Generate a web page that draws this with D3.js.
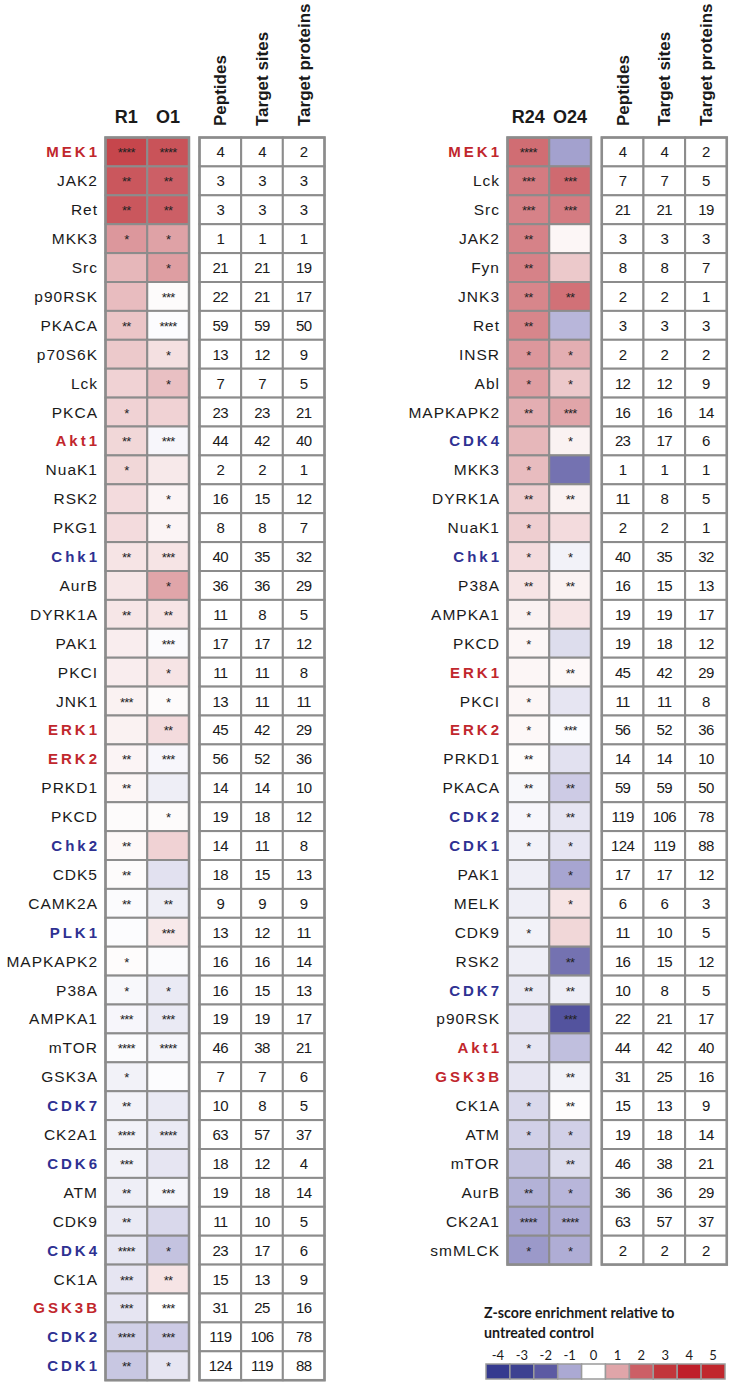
<!DOCTYPE html>
<html><head><meta charset="utf-8">
<script src="https://cdn.jsdelivr.net/npm/d3@7"></script>
<style>body{margin:0;background:#fff}svg{display:block}
.sans{font-family:"Liberation Sans", Arial, Helvetica, sans-serif}
.cal{font-family:Lato, "Open Sans", sans-serif}</style>
</head><body>
<script>
// ---------------- DATA ----------------
const leftKinases = ["MEK1","JAK2","Ret","MKK3","Src","p90RSK","PKACA","p70S6K","Lck","PKCA","Akt1","NuaK1","RSK2","PKG1","Chk1","AurB","DYRK1A","PAK1","PKCI","JNK1","ERK1","ERK2","PRKD1","PKCD","Chk2","CDK5","CAMK2A","PLK1","MAPKAPK2","P38A","AMPKA1","mTOR","GSK3A","CDK7","CK2A1","CDK6","ATM","CDK9","CDK4","CK1A","GSK3B","CDK2","CDK1"];
const leftR1 = [2.6,2.2,2.2,1.2,0.8,0.75,0.65,0.6,0.5,0.5,0.45,0.45,0.4,0.4,0.3,0.28,0.28,0.2,0.2,0.15,0.15,0.12,0.1,0.05,0.08,0.05,-0.05,-0.03,0.03,-0.08,-0.1,-0.05,-0.15,-0.15,-0.15,-0.15,-0.2,-0.25,-0.28,-0.3,-0.3,-0.55,-0.65];
const leftO1 = [2.3,2.0,2.0,1.05,1.1,0.05,-0.03,0.35,0.7,0.5,-0.1,0.25,0.12,0.12,0.3,1.0,0.3,-0.05,0.3,0.05,0.4,-0.1,-0.2,0.05,0.5,-0.35,-0.2,0.25,-0.05,-0.25,-0.25,-0.12,-0.03,-0.25,-0.25,-0.3,-0.12,-0.45,-0.7,0.3,0.0,-0.6,-0.3];
const leftSigR1 = ["****","**","**","*","","","**","","","*","**","*","","","**","","**","","","***","","**","**","","**","**","**","","*","*","***","****","*","**","****","***","**","**","****","***","***","****","**"];
const leftSigO1 = ["****","**","**","*","*","***","****","*","*","","***","","*","*","***","*","**","***","*","*","**","***","","*","","","**","***","","*","***","****","","","****","","***","","*","**","***","***","*"];
const leftPeptides = [4,3,3,1,21,22,59,13,7,23,44,2,16,8,40,36,11,17,11,13,45,56,14,19,14,18,9,13,16,16,19,46,7,10,63,18,19,11,23,15,31,119,124];
const leftSites = [4,3,3,1,21,21,59,12,7,23,42,2,15,8,35,36,8,17,11,11,42,52,14,18,11,15,9,12,16,15,19,38,7,8,57,12,18,10,17,13,25,106,119];
const leftProteins = [2,3,3,1,19,17,50,9,5,21,40,1,12,7,32,29,5,12,8,11,29,36,10,12,8,13,9,11,14,13,17,21,6,5,37,4,14,5,6,9,16,78,88];

const rightKinases = ["MEK1","Lck","Src","JAK2","Fyn","JNK3","Ret","INSR","Abl","MAPKAPK2","CDK4","MKK3","DYRK1A","NuaK1","Chk1","P38A","AMPKA1","PKCD","ERK1","PKCI","ERK2","PRKD1","PKACA","CDK2","CDK1","PAK1","MELK","CDK9","RSK2","CDK7","p90RSK","Akt1","GSK3B","CK1A","ATM","mTOR","AurB","CK2A1","smMLCK"];
const rightR24 = [1.8,1.6,1.5,1.5,1.5,1.45,1.45,1.2,1.1,0.9,0.8,0.75,0.55,0.55,0.4,0.3,0.15,0.1,0.1,0.1,0.08,0.03,-0.08,-0.1,-0.15,-0.2,-0.2,-0.15,-0.2,-0.25,-0.3,-0.3,-0.3,-0.45,-0.55,-0.7,-0.9,-1.05,-1.2];
const rightO24 = [-1.1,1.85,1.6,0.1,0.6,1.75,-0.85,0.9,0.6,1.0,0.15,-1.7,0.15,0.4,-0.15,0.15,0.3,-0.4,0.08,-0.3,-0.03,-0.35,-0.6,-0.3,-0.3,-1.05,0.3,0.45,-1.7,-0.2,-2.3,-0.75,-0.15,0.02,-0.55,-0.4,-0.85,-0.95,-0.95];
const rightSigR24 = ["****","***","***","**","**","**","**","*","*","**","","*","**","*","*","**","*","*","","*","*","**","**","*","*","","","*","","**","","*","","*","*","","**","****","*"];
const rightSigO24 = ["","***","***","","","**","","*","*","***","*","","**","","*","**","","","**","","***","","**","**","*","*","*","","**","**","***","","**","**","*","**","*","****","*"];
const rightPeptides = [4,7,21,3,8,2,3,2,12,16,23,1,11,2,40,16,19,19,45,11,56,14,59,119,124,17,6,11,16,10,22,44,31,15,19,46,36,63,2];
const rightSites = [4,7,21,3,8,2,3,2,12,16,17,1,8,2,35,15,19,18,42,11,52,14,59,106,119,17,6,10,15,8,21,42,25,13,18,38,36,57,2];
const rightProteins = [2,5,19,3,7,1,3,2,9,14,6,1,5,1,32,13,17,12,29,8,36,10,50,78,88,12,3,5,12,5,17,40,16,9,14,21,29,37,2];

const redKinases = ["MEK1","Akt1","ERK1","ERK2","GSK3B"];
const blueKinases = ["Chk1","Chk2","PLK1","CDK7","CDK6","CDK4","CDK2","CDK1"];

const leftConditions = ["R1","O1"];
const rightConditions = ["R24","O24"];
const countHeaders = ["Peptides","Target sites","Target proteins"];

const legendTicks = [-4,-3,-2,-1,0,1,2,3,4,5];
const legendColours = ["#353a8f","#3d4191","#5c5aa3","#aba9d3","#ffffff","#e0a5a9","#cc5f66","#c2363b","#bf1f2a","#c1272d"];
const legendTitle = ["Z-score enrichment relative to","untreated control"];

// ---------------- DRAW ----------------
const W = 729, H = 1383;
const svg = d3.select("body").append("svg").attr("width", W).attr("height", H);
const colour = d3.scaleLinear().domain(legendTicks).range(legendColours).clamp(true);

const rowH = 28.9, top0 = 137.5;
const grey = "#8c8c8c";
const RED = "#c1272d", BLUE = "#2e3192";
const special = d => redKinases.includes(d) || blueKinases.includes(d);

function panel(cfg) {
  const n = cfg.kinases.length;
  const y = d3.scaleBand().domain(d3.range(n)).range([top0, top0 + n * rowH]);
  const xh = d3.scaleBand().domain(cfg.conditions).range([cfg.heatX, cfg.heatX + 83.5]);
  const xt = d3.scaleBand().domain(countHeaders).range([cfg.tableX, cfg.tableX + 125]);
  const g = svg.append("g").attr("class","sans");

  // Row labels
  g.selectAll("text.lab").data(cfg.kinases).join("text")
    .attr("class","lab")
    .attr("x", d => special(d) ? cfg.labelX + 3 : cfg.labelX + 1)
    .attr("y", (d,i) => y(i) + y.bandwidth()/2 + 5.5)
    .attr("text-anchor","end")
    .attr("font-size", d => special(d) ? 15 : 15.5)
    .attr("font-weight", d => special(d) ? "bold" : "normal")
    .attr("letter-spacing", d => special(d) ? 3 : 1)
    .attr("fill", d => redKinases.includes(d) ? RED : blueKinases.includes(d) ? BLUE : "#1a1a1a")
    .text(d => d);

  // Heat cells
  const heatData = [];
  cfg.kinases.forEach((k,i) => {
    heatData.push({i, c: cfg.conditions[0], v: cfg.v1[i], s: cfg.s1[i]});
    heatData.push({i, c: cfg.conditions[1], v: cfg.v2[i], s: cfg.s2[i]});
  });
  g.selectAll("rect.heat").data(heatData).join("rect")
    .attr("x", d => xh(d.c)).attr("y", d => y(d.i))
    .attr("width", xh.bandwidth()).attr("height", y.bandwidth())
    .attr("fill", d => colour(d.v)).attr("stroke", grey).attr("stroke-width", 2);
  g.selectAll("text.sig").data(heatData).join("text")
    .attr("x", d => xh(d.c) + xh.bandwidth()/2)
    .attr("y", d => y(d.i) + y.bandwidth()/2 + 5.5)
    .attr("text-anchor","middle")
    .attr("font-size", 13).attr("fill","#222").attr("letter-spacing",-0.8)
    .text(d => d.s);
  g.append("rect").attr("x", cfg.heatX).attr("y", top0)
    .attr("width", 83.5).attr("height", n * rowH)
    .attr("fill","none").attr("stroke", grey).attr("stroke-width", 2.5);

  // Count table
  const tab = [];
  cfg.kinases.forEach((k,i) => {
    tab.push({i, c: countHeaders[0], v: cfg.pep[i]});
    tab.push({i, c: countHeaders[1], v: cfg.sites[i]});
    tab.push({i, c: countHeaders[2], v: cfg.prot[i]});
  });
  g.selectAll("rect.tab").data(tab).join("rect")
    .attr("x", d => xt(d.c)).attr("y", d => y(d.i))
    .attr("width", xt.bandwidth()).attr("height", y.bandwidth())
    .attr("fill","#fff").attr("stroke", grey).attr("stroke-width", 2);
  g.selectAll("text.num").data(tab).join("text")
    .attr("x", d => xt(d.c) + xt.bandwidth()/2)
    .attr("y", d => y(d.i) + y.bandwidth()/2 + 5.5)
    .attr("text-anchor","middle")
    .attr("font-size", 15).attr("fill","#1a1a1a").attr("letter-spacing",-0.6)
    .text(d => d.v);
  g.append("rect").attr("x", cfg.tableX).attr("y", top0)
    .attr("width", 125).attr("height", n * rowH)
    .attr("fill","none").attr("stroke", grey).attr("stroke-width", 2.5);

  // Headers
  g.selectAll("text.ch").data(cfg.conditions).join("text")
    .attr("x", d => xh(d) + xh.bandwidth()/2)
    .attr("y", 123)
    .attr("text-anchor","middle")
    .attr("font-size", 18).attr("font-weight","bold").attr("fill","#1a1a1a")
    .text(d => d);
  g.selectAll("text.th").data(countHeaders).join("text")
    .attr("transform", d => `translate(${xt(d) + xt.bandwidth()/2 + 6},126) rotate(-90)`)
    .attr("font-size", 17).attr("font-weight","bold").attr("fill","#1a1a1a")
    .text(d => d);
}

panel({kinases:leftKinases, conditions:leftConditions, v1:leftR1, v2:leftO1, s1:leftSigR1, s2:leftSigO1,
  pep:leftPeptides, sites:leftSites, prot:leftProteins, heatX:105.5, tableX:199.5, labelX:97});
panel({kinases:rightKinases, conditions:rightConditions, v1:rightR24, v2:rightO24, s1:rightSigR24, s2:rightSigO24,
  pep:rightPeptides, sites:rightSites, prot:rightProteins, heatX:507.5, tableX:601.8, labelX:499});

// Legend
const lg = svg.append("g").attr("class","cal");
lg.selectAll("text.lt").data(legendTitle).join("text")
  .attr("x", 484).attr("y", (d,i) => 1318 + i*20)
  .attr("font-weight","bold").attr("font-size", 14.2)
  .attr("fill","#1a1a1a").text(d => d);
const lx = d3.scaleBand().domain(legendTicks).range([486, 725]);
lg.selectAll("rect").data(legendTicks).join("rect")
  .attr("x", d => lx(d)).attr("y", 1364).attr("width", lx.bandwidth()).attr("height", 15)
  .attr("fill", d => colour(d)).attr("stroke", "#9a9a9a").attr("stroke-width", 1.5);
lg.selectAll("text.tk").data(legendTicks).join("text")
  .attr("x", d => lx(d) + lx.bandwidth()/2).attr("y", 1360)
  .attr("text-anchor","middle")
  .attr("font-size", 13).attr("fill","#1a1a1a")
  .text(d => d);
</script>
</body></html>
